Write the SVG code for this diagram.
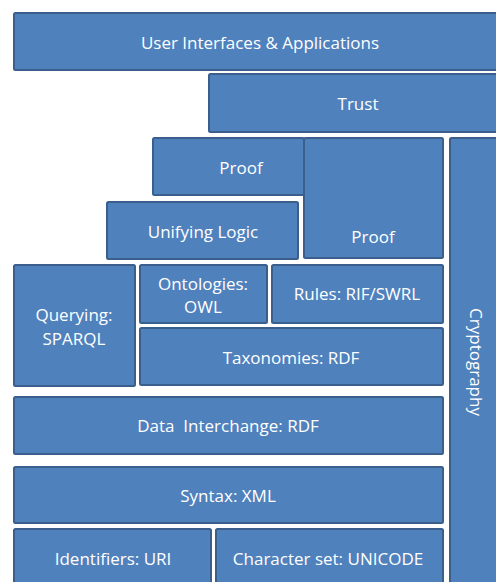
<svg xmlns="http://www.w3.org/2000/svg" width="496" height="582" viewBox="0 0 496 582">
<style>
.b{fill:#4F81BD;stroke:#3A5F8D;stroke-width:2}
.t{fill:#FFFFFF;font-family:"Open Sans","Noto Sans",sans-serif;font-size:17px;text-anchor:middle;dominant-baseline:central}
</style>
<rect width="496" height="582" fill="#FFFFFF"/>
<g id="ui"><rect class="b" x="14" y="13" width="490" height="57" rx="1.5"/><text class="t" x="260" y="42">User Interfaces &amp; Applications</text></g>
<g id="trust"><rect class="b" x="209" y="74" width="295" height="58" rx="1.5"/><text class="t" x="358" y="103">Trust</text></g>
<g id="proof1"><rect class="b" x="153" y="138" width="151" height="57" rx="1.5"/><text class="t" x="241" y="167">Proof</text></g>
<g id="proof2"><rect class="b" x="304" y="138" width="139" height="120" rx="1.5"/><text class="t" x="373" y="236">Proof</text></g>
<g id="crypto"><rect class="b" x="450" y="138" width="60" height="460" rx="1.5"/><text class="t" transform="translate(476 362) rotate(90)" x="0" y="0">Cryptography</text></g>
<g id="logic"><rect class="b" x="107" y="202" width="191" height="57" rx="1.5"/><text class="t" x="203" y="231">Unifying Logic</text></g>
<g id="query"><rect class="b" x="14" y="265" width="121" height="121" rx="1.5"/><text class="t" x="74" y="314">Querying:</text><text class="t" x="74" y="338">SPARQL</text></g>
<g id="onto"><rect class="b" x="140" y="265" width="127" height="58" rx="1.5"/><text class="t" x="203" y="283">Ontologies:</text><text class="t" x="203" y="306">OWL</text></g>
<g id="rules"><rect class="b" x="272" y="265" width="171" height="58" rx="1.5"/><text class="t" x="357" y="293">Rules: RIF/SWRL</text></g>
<g id="tax"><rect class="b" x="140" y="328" width="303" height="57" rx="1.5"/><text class="t" x="291" y="357">Taxonomies: RDF</text></g>
<g id="data"><rect class="b" x="14" y="397" width="429" height="57" rx="1.5"/><text class="t" x="228" y="425" xml:space="preserve">Data  Interchange: RDF</text></g>
<g id="syntax"><rect class="b" x="14" y="467" width="429" height="56" rx="1.5"/><text class="t" x="228" y="495">Syntax: XML</text></g>
<g id="uri"><rect class="b" x="14" y="529" width="197" height="70" rx="1.5"/><text class="t" x="113" y="558">Identifiers: URI</text></g>
<g id="unicode"><rect class="b" x="216" y="529" width="227" height="70" rx="1.5"/><text class="t" x="328" y="558">Character set: UNICODE</text></g>
<g id="connectors"/>
</svg>
